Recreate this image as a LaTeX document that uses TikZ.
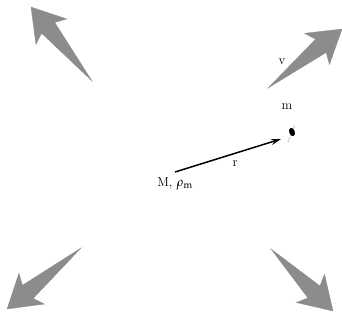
\documentclass[tikz,border=0pt]{standalone}
\usepackage{mathpazo}
\usetikzlibrary{calc,arrows.meta}
\tikzset{
  fatarrow/.style={fill=black!45, draw=black!45, line width=0.3pt, line join=miter},
  lbl/.style={font=\fontsize{13}{15}\selectfont, inner sep=0pt},
  vecarrow/.style={line width=1.5pt, -{Stealth[length=10pt,width=6pt]}}
}
\newcommand{\mybigarrow}[3]{%
  \coordinate (#3T) at #1; \coordinate (#3P) at #2;
  \coordinate (#3B) at ($(#3P)!32pt!(#3T)$);
  \coordinate (#3BB) at ($(#3P)!27pt!(#3T)$);
  \fill[fatarrow] (#3T) -- ($(#3BB)!8.5pt!90:(#3P)$) -- ($(#3B)!20pt!90:(#3P)$) -- (#3P)
     -- ($(#3B)!20pt!-90:(#3P)$) -- ($(#3BB)!8.5pt!-90:(#3P)$) -- cycle;
}
\begin{document}
\begin{tikzpicture}[x=1pt,y=-1pt]
\useasboundingbox (0,0) rectangle (342,322);
\mybigarrow{(92,81)}{(31,7)}{a}
\mybigarrow{(268,88)}{(342,29)}{b}
\mybigarrow{(81,248)}{(7,309)}{c}
\mybigarrow{(271,249)}{(333,311)}{d}
\node[lbl] (v) at (282,62) {v};
\node[lbl] (mlab) at (287,107) {m};
\coordinate (O) at (175,172);
\coordinate (R) at (281,139);
\draw[vecarrow] (O) -- (R);
\node[lbl] (r) at (235,164) {r};
\node[lbl] (M) at (175,184) {M, $\rho_{\mathrm m}$};
\coordinate (p1) at (288,142);
\coordinate (p2) at (295,125);
\draw[black!50, densely dotted, line width=0.7pt] (p1) -- (p2);
\fill[black, rotate around={20:(292,132)}] (292,132) ellipse (2.8 and 4.3);
\end{tikzpicture}
\end{document}
